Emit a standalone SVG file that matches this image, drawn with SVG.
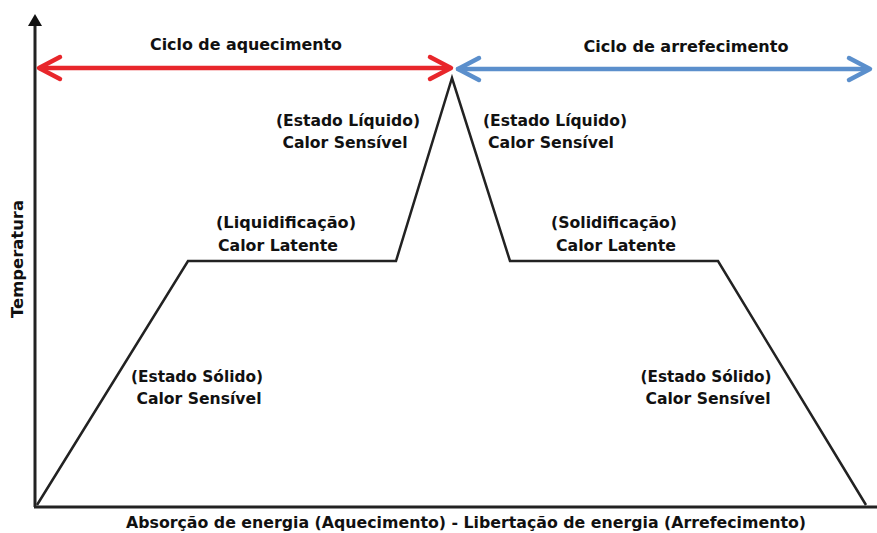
<svg xmlns="http://www.w3.org/2000/svg" width="877" height="533" viewBox="0 0 877 533">
<style>
text{font-family:"DejaVu Sans","Liberation Sans",sans-serif;font-weight:bold;font-size:16px;fill:#111}
.c{text-anchor:middle}
.axis{stroke:#222;stroke-width:3;fill:none}
.curve{stroke:#222;stroke-width:2.5;fill:none;stroke-linejoin:miter}
</style>
<rect width="877" height="533" fill="#fff"/>
<g id="axes">
<line class="axis" x1="35" y1="507" x2="35" y2="22"/>
<path d="M28,26 L35,14 L42,26 Z" fill="#111"/>
<line class="axis" x1="34" y1="507" x2="877" y2="507"/>
</g>
<g id="curve">
<polyline class="curve" points="37,505 188,261 396,261 452,78 510,261 718,261 866,505"/>
</g>
<g id="connectors">
<g id="heating-arrow" stroke="#e8262b" stroke-width="4.5" fill="none" stroke-linecap="round" stroke-linejoin="round">
<line x1="40" y1="68" x2="450" y2="68"/>
<polyline points="60,57 39,68 60,79"/>
<polyline points="430,57 451,68 430,79"/>
</g>
<g id="cooling-arrow" stroke="#5b8fcc" stroke-width="4.5" fill="none" stroke-linecap="round" stroke-linejoin="round">
<line x1="458" y1="69" x2="868" y2="69"/>
<polyline points="479,58 458,69 479,80"/>
<polyline points="849,58 870,69 849,80"/>
</g>
</g>
<g id="title-heating"><text class="c" x="246" y="50" textLength="192" lengthAdjust="spacingAndGlyphs">Ciclo de aquecimento</text></g>
<g id="title-cooling"><text class="c" x="686" y="52" textLength="205" lengthAdjust="spacingAndGlyphs">Ciclo de arrefecimento</text></g>
<g id="label-liquid-left">
<text class="c" x="348" y="126" textLength="144" lengthAdjust="spacingAndGlyphs">(Estado Líquido)</text>
<text class="c" x="345" y="148" textLength="125" lengthAdjust="spacingAndGlyphs">Calor Sensível</text>
</g>
<g id="label-liquid-right">
<text class="c" x="555" y="126" textLength="144" lengthAdjust="spacingAndGlyphs">(Estado Líquido)</text>
<text class="c" x="551" y="148" textLength="126" lengthAdjust="spacingAndGlyphs">Calor Sensível</text>
</g>
<g id="label-liquefaction">
<text x="216" y="228" textLength="140" lengthAdjust="spacingAndGlyphs">(Liquidificação)</text>
<text x="218" y="251" textLength="120" lengthAdjust="spacingAndGlyphs">Calor Latente</text>
</g>
<g id="label-solidification">
<text class="c" x="614" y="228" textLength="126" lengthAdjust="spacingAndGlyphs">(Solidificação)</text>
<text class="c" x="616" y="251" textLength="120" lengthAdjust="spacingAndGlyphs">Calor Latente</text>
</g>
<g id="label-solid-left">
<text class="c" x="197" y="382" textLength="132" lengthAdjust="spacingAndGlyphs">(Estado Sólido)</text>
<text class="c" x="199" y="404" textLength="125" lengthAdjust="spacingAndGlyphs">Calor Sensível</text>
</g>
<g id="label-solid-right">
<text class="c" x="706" y="382" textLength="131" lengthAdjust="spacingAndGlyphs">(Estado Sólido)</text>
<text class="c" x="708" y="404" textLength="125" lengthAdjust="spacingAndGlyphs">Calor Sensível</text>
</g>
<g id="x-label"><text class="c" x="466" y="528" textLength="680" lengthAdjust="spacingAndGlyphs">Absorção de energia (Aquecimento) - Libertação de energia (Arrefecimento)</text></g>
<g id="y-label"><text class="c" transform="translate(23,259) rotate(-90)" x="0" y="0" textLength="118" lengthAdjust="spacingAndGlyphs">Temperatura</text></g>
</svg>
